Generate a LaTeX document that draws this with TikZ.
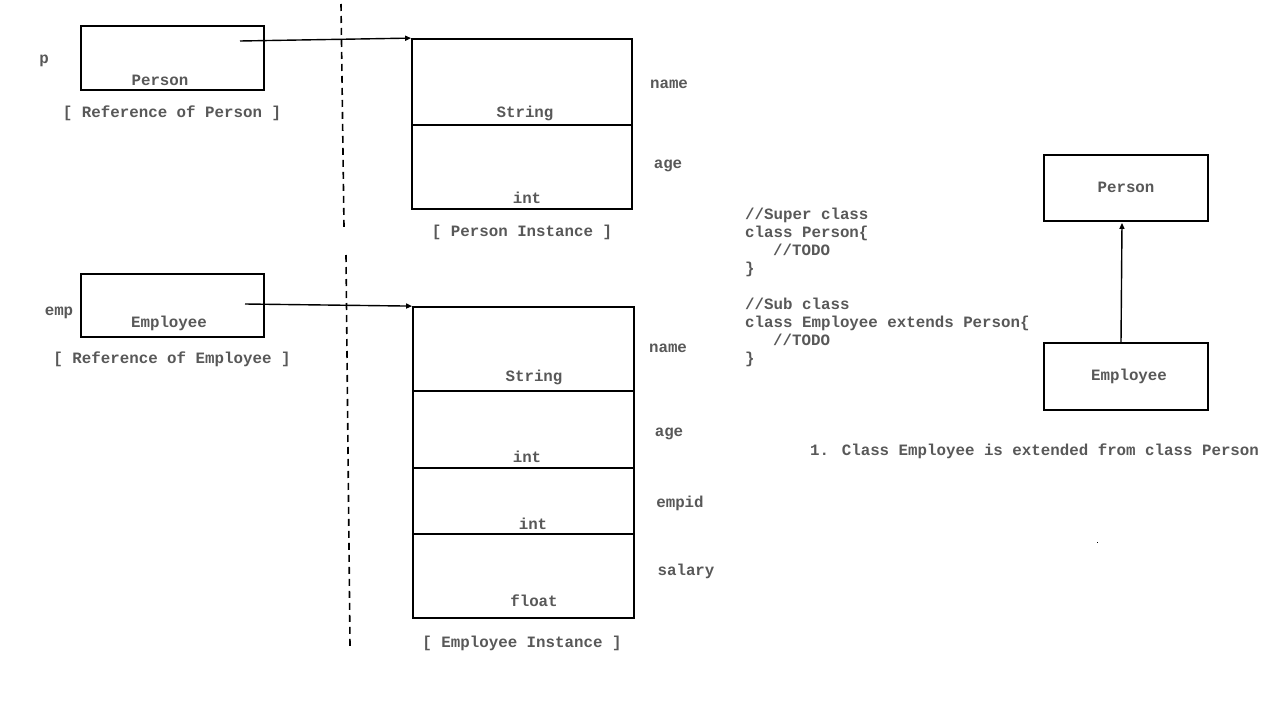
\documentclass[tikz,border=0pt]{standalone}
\usepackage{fontspec}
\setmainfont{Liberation Mono}
\usetikzlibrary{arrows.meta}
\definecolor{txt}{RGB}{88,88,88}
\tikzset{
  box/.style={draw=black, line width=1.8pt},
  lbl/.style={anchor=base, text=txt, font=\fontsize{15.8}{18}\selectfont\bfseries, inner sep=0pt},
  lblw/.style={lbl, anchor=base west},
  ptr/.style={line width=1.4pt, -{Triangle[length=6pt,width=5pt]}},
  sep/.style={line width=1.6pt, dash pattern=on 7pt off 5pt},
}
\begin{document}
\begin{tikzpicture}[x=1pt,y=-1pt]
\useasboundingbox (0,0) rectangle (1266,704);
% reference boxes
\node[box, minimum width=183pt, minimum height=64pt, inner sep=0pt] (pref) at (172.5,58) {};
\node[lbl] (ptype) at (160,85) {Person};
\node[lbl] (pvar) at (44,63) {p};
\node[lbl] (pcap) at (172,117) {[ Reference of Person ]};

\node[box, minimum width=183pt, minimum height=63pt, inner sep=0pt] (eref) at (172.5,305.5) {};
\node[lbl] (etype) at (169,327) {Employee};
\node[lbl] (evar) at (59,315) {emp};
\node[lbl] (ecap) at (172,363) {[ Reference of Employee ]};

% dashed separators
\coordinate (d1a) at (341,4);
\coordinate (d1b) at (344,227);
\coordinate (d2a) at (346,255);
\coordinate (d2b) at (350,646);
\draw[sep] (d1a) -- (d1b);
\draw[sep] (d2a) -- (d2b);

% Person instance
\node[box, minimum width=220pt, minimum height=86pt, inner sep=0pt] (pi1) at (522,82) {};
\node[box, minimum width=220pt, minimum height=84pt, inner sep=0pt] (pi2) at (522,167) {};
\node[lbl] (pis) at (525,117) {String};
\node[lbl] (pii) at (527,203) {int};
\node[lbl] (pin) at (669,88) {name};
\node[lbl] (pia) at (668,168) {age};
\node[lbl] (picap) at (522,236) {[ Person Instance ]};

% Employee instance
\node[box, minimum width=221pt, minimum height=84pt, inner sep=0pt] (ei1) at (523.5,349) {};
\node[box, minimum width=221pt, minimum height=77pt, inner sep=0pt] (ei2) at (523.5,429.5) {};
\node[box, minimum width=221pt, minimum height=66pt, inner sep=0pt] (ei3) at (523.5,501) {};
\node[box, minimum width=221pt, minimum height=84pt, inner sep=0pt] (ei4) at (523.5,576) {};
\node[lbl] (eis) at (534,381) {String};
\node[lbl] (eii) at (527,462) {int};
\node[lbl] (eii2) at (533,529) {int};
\node[lbl] (eif) at (534,606) {float};
\node[lbl] (ein) at (668,352) {name};
\node[lbl] (eia) at (669,436) {age};
\node[lbl] (eie) at (680,507) {empid};
\node[lbl] (eisal) at (686,575) {salary};
\node[lbl] (eicap) at (522,647) {[ Employee Instance ]};

% pointers
\coordinate (pstart) at (240,41);
\coordinate (estart) at (245,304);
\draw[ptr] (pstart) -- (pi1.north west);
\draw[ptr] (estart) -- (ei1.north west);

% code
\node[lblw] (c1) at (745,219) {//Super class};
\node[lblw] (c2) at (745,237) {class Person\{};
\node[lblw] (c3) at (773,255) {//TODO};
\node[lblw] (c4) at (745,273) {\}};
\node[lblw] (c5) at (745,309) {//Sub class};
\node[lblw] (c6) at (745,327) {class Employee extends Person\{};
\node[lblw] (c7) at (773,345) {//TODO};
\node[lblw] (c8) at (745,363) {\}};

% class diagram
\node[box, minimum width=164pt, minimum height=66pt, inner sep=0pt] (cperson) at (1126,188) {};
\node[lbl] at (1126,192) {Person};
\node[box, minimum width=164pt, minimum height=67pt, inner sep=0pt] (cemp) at (1126,376.5) {};
\node[lbl] at (1129,380) {Employee};
\draw[ptr] ([xshift=-5pt]cemp.north) -- ([xshift=-4pt,yshift=-1pt]cperson.south);

\node[lblw] (note) at (810,455) {1. Class Employee is extended from class Person};

\fill[black] (1096.5,541.5) rectangle (1098,543);
\end{tikzpicture}
\end{document}
